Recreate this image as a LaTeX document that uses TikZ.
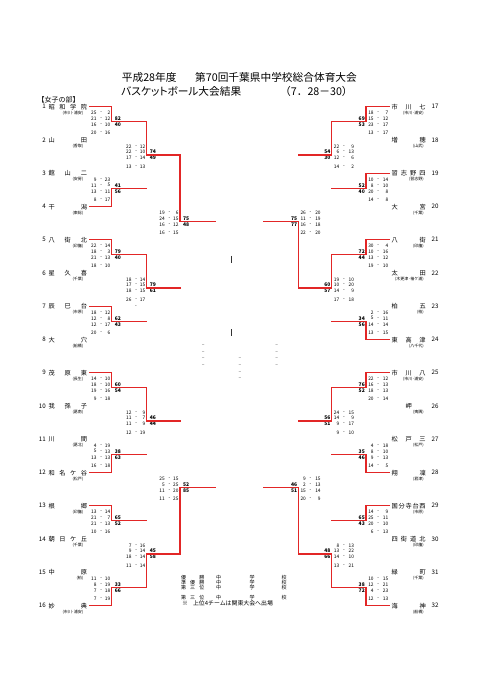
\documentclass[tikz,border=0pt]{standalone}
\usepackage{fontspec}
\setmainfont{Noto Sans CJK JP}
\newfontfamily\paltjp{Noto Sans CJK JP}[RawFeature=+palt]
\pgfdeclarelayer{graylayer}
\pgfdeclarelayer{redlayer}
\pgfsetlayers{graylayer,main,redlayer}
\definecolor{lred}{RGB}{226,38,38}
\definecolor{lgray}{RGB}{130,130,130}
\tikzset{
 lnred/.style={draw=lred,line width=1.25pt,line cap=rect},
 lngray/.style={draw=lgray,line width=0.85pt,line cap=rect},
 tname/.style={inner sep=0pt,font=\fontsize{6.2}{6.5}\selectfont},
 tsub/.style={inner sep=0pt,font=\fontsize{4}{4}\selectfont},
 sc/.style={inner sep=0pt,font=\fontsize{4.8}{5}\selectfont},
 tot/.style={inner sep=0pt,font=\fontsize{5}{5}\selectfont\bfseries},
 ttl/.style={inner sep=0pt,font=\fontsize{10.7}{11}\selectfont},
 lgd/.style={inner sep=0pt,font=\fontsize{5}{5}\selectfont},
 lgdb/.style={inner sep=0pt,font=\fontsize{5.9}{6}\selectfont},
 dsh/.style={inner sep=0pt,text=black!75,font=\fontsize{5}{5}\selectfont},
 smallmark/.style={draw=black!80,line width=0.7pt},
}
\newcommand\seg[3]{\begin{pgfonlayer}{#1layer}\draw[ln#1] (#2) -- (#3);\end{pgfonlayer}}
% id, x0, V, yin, yout, hcolour, vcolour
\newcommand\arm[7]{%
 \coordinate (#1a) at (#2,#4);
 \coordinate (#1b) at (#3,#4);
 \coordinate (#1c) at (#3,#5);
 \seg{#6}{#1a}{#1b}
 \seg{#7}{#1b}{#1c}
}
\newcommand\rowy[2]{\pgfmathsetmacro\yy{#1+(#2==1)*(-8.6)+(#2==2)*(-2.9)+(#2==3)*3.1+(#2==4)*11.5}}
% scores left: id, V, yout, list, tot1, tot2
\newcommand\scL[6]{%
 \foreach \sa/\sb [count=\i] in {#4}{%
  \rowy{#3}{\i}
  \node[sc,anchor=east] (#1a\i) at (#2-15,\yy) {\sa};
  \node[sc] (#1d\i) at (#2-10.5,\yy) {-};
  \node[sc,anchor=east] (#1b\i) at (#2-1.3,\yy) {\sb};
 }
 \node[tot,anchor=west] (#1ta) at (#2+3,#3-2.9) {#5};
 \node[tot,anchor=west] (#1tb) at (#2+3,#3+3.1) {#6};
}
\newcommand\scR[6]{%
 \foreach \sa/\sb [count=\i] in {#4}{%
  \rowy{#3}{\i}
  \node[sc,anchor=east] (#1a\i) at (#2+7.8,\yy) {\sa};
  \node[sc] (#1d\i) at (#2+12.2,\yy) {-};
  \node[sc,anchor=east] (#1b\i) at (#2+22.5,\yy) {\sb};
 }
 \node[tot,anchor=east] (#1ta) at (#2-1,#3-2.9) {#5};
 \node[tot,anchor=east] (#1tb) at (#2-1,#3+3.1) {#6};
}
% teams: y, number, name, sub
\newcommand\teamL[4]{%
 \node[tname,anchor=east] (num#2) at (46,#1) {#2};
 \node[tname,anchor=west] (nm#2) at (48.3,#1) {\makebox[38.5pt][s]{#3}};
 \node[tsub,anchor=east] (sub#2) at (83.5,#1+6.3) {#4};
}
\newcommand\teamR[4]{%
 \node[tname,anchor=west] (num#2) at (431.5,#1) {#2};
 \node[tname,anchor=west] (nm#2) at (391.5,#1) {\makebox[34pt][s]{#3}};
 \node[tsub,anchor=east] (sub#2) at (424,#1+6.3) {#4};
}
\begin{document}
\begin{tikzpicture}[x=1pt,y=-1pt]
\useasboundingbox (0,0) rectangle (481,680);
\fill[white] (0,0) rectangle (481,680);
% title
\node[ttl,anchor=west] (ttla) at (121.7,77) {平成28年度};
\node[ttl,anchor=west] (ttlb) at (195,77) {第70回千葉県中学校総合体育大会};
\node[ttl,anchor=west] (ttlc) at (121,91) {\paltjp バスケットボール大会結果};
\node[ttl,anchor=west] (ttld) at (280,91) {（7．28－30）};
\node[inner sep=0pt,font=\fontsize{7}{7}\selectfont,anchor=west] (bu) at (37.5,100) {【女子の部】};
% left teams
\teamL{106.7}{1}{昭\hfill 和\hfill 学\hfill 院}{(市川･浦安)}
\teamL{140.2}{2}{山\hfill 田}{(香取)}
\teamL{173.2}{3}{館\hfill 山\hfill 二}{(安房)}
\teamL{206.7}{4}{干\hfill 潟}{(東総)}
\teamL{239.7}{5}{八\hfill 街\hfill 北}{(印旛)}
\teamL{273.2}{6}{星\hfill 久\hfill 喜}{(千葉)}
\teamL{306.2}{7}{辰\hfill 巳\hfill 台}{(市原)}
\teamL{339.7}{8}{大\hfill 穴}{(船橋)}
\teamL{372.7}{9}{茂\hfill 原\hfill 東}{(長生)}
\teamL{406.2}{10}{我\hfill 孫\hfill 子}{(葛南)}
\teamL{439.2}{11}{川\hfill 間}{(葛北)}
\teamL{472.7}{12}{和\hfill 名\hfill ケ\hfill 谷}{(松戸)}
\teamL{505.7}{13}{根\hfill 郷}{(印旛)}
\teamL{539.2}{14}{朝\hfill 日\hfill ケ\hfill 丘}{(千葉)}
\teamL{572.2}{15}{中\hfill 原}{(柏)}
\teamL{605.7}{16}{妙\hfill 典}{(市川･浦安)}
% right teams
\teamR{106.7}{17}{市\hfill 川\hfill 七}{(市川･浦安)}
\teamR{140.2}{18}{増\hfill 穂}{(山武)}
\teamR{173.2}{19}{習\hfill 志\hfill 野\hfill 四}{(習志野)}
\teamR{206.7}{20}{大\hfill 宮}{(千葉)}
\teamR{239.7}{21}{八\hfill 街}{(印旛)}
\teamR{273.2}{22}{太\hfill 田}{(木更津･袖ケ浦)}
\teamR{306.2}{23}{柏\hfill 五}{(柏)}
\teamR{339.7}{24}{東\hfill 高\hfill 津}{(八千代)}
\teamR{372.7}{25}{市\hfill 川\hfill 八}{(市川･浦安)}
\teamR{406.2}{26}{\hfill 岬\hfill}{(夷隅)}
\teamR{439.2}{27}{松\hfill 戸\hfill 三}{(松戸)}
\teamR{472.7}{28}{翔\hfill 凜}{(君津)}
\teamR{505.7}{29}{国\hfill 分\hfill 寺\hfill 台\hfill 西}{(市原)}
\teamR{539.2}{30}{四\hfill 街\hfill 道\hfill 北}{(印旛)}
\teamR{572.2}{31}{緑\hfill 町}{(千葉)}
\teamR{605.7}{32}{海\hfill 神}{(船橋)}
% left round 1
\arm{La0}{90}{111.7}{106.7}{121.7}{red}{red}
\arm{Lb0}{90}{111.7}{140.2}{121.7}{gray}{gray}
\arm{La1}{90}{111.7}{173.2}{188.2}{gray}{gray}
\arm{Lb1}{90}{111.7}{206.7}{188.2}{red}{red}
\arm{La2}{90}{111.7}{239.7}{254.7}{red}{red}
\arm{Lb2}{90}{111.7}{273.2}{254.7}{gray}{gray}
\arm{La3}{90}{111.7}{306.2}{321.2}{red}{red}
\arm{Lb3}{90}{111.7}{339.7}{321.2}{gray}{gray}
\arm{La4}{90}{111.7}{372.7}{387.7}{red}{red}
\arm{Lb4}{90}{111.7}{406.2}{387.7}{gray}{gray}
\arm{La5}{90}{111.7}{439.2}{454.2}{gray}{gray}
\arm{Lb5}{90}{111.7}{472.7}{454.2}{red}{red}
\arm{La6}{90}{111.7}{505.7}{520.7}{red}{red}
\arm{Lb6}{90}{111.7}{539.2}{520.7}{gray}{gray}
\arm{La7}{90}{111.7}{572.2}{587.2}{gray}{gray}
\arm{Lb7}{90}{111.7}{605.7}{587.2}{red}{red}
% left round 2
\arm{LRa0}{111.7}{146.7}{121.7}{155}{red}{red}
\arm{LRb0}{111.7}{146.7}{188.2}{155}{red}{gray}
\arm{LRa1}{111.7}{146.7}{254.7}{288}{red}{red}
\arm{LRb1}{111.7}{146.7}{321.2}{288}{red}{gray}
\arm{LRa2}{111.7}{146.7}{387.7}{421}{red}{red}
\arm{LRb2}{111.7}{146.7}{454.2}{421}{red}{gray}
\arm{LRa3}{111.7}{146.7}{520.7}{554}{red}{gray}
\arm{LRb3}{111.7}{146.7}{587.2}{554}{red}{red}
% left quarter-finals
\arm{LQa0}{146.7}{180}{155}{221.5}{red}{red}
\arm{LQb0}{146.7}{180}{288}{221.5}{red}{gray}
\arm{LQa1}{146.7}{180}{421}{487.5}{red}{gray}
\arm{LQb1}{146.7}{180}{554}{487.5}{red}{red}
% left semi-final
\arm{LSa}{180}{215}{221.5}{354.5}{red}{gray}
\arm{LSb}{180}{215}{487.5}{354.5}{red}{gray}
% right round 1
\arm{Ra0}{389}{366}{106.7}{121.7}{red}{red}
\arm{Rb0}{389}{366}{140.2}{121.7}{gray}{gray}
\arm{Ra1}{389}{366}{173.2}{188.2}{red}{red}
\arm{Rb1}{389}{366}{206.7}{188.2}{gray}{gray}
\arm{Ra2}{389}{366}{239.7}{254.7}{red}{red}
\arm{Rb2}{389}{366}{273.2}{254.7}{gray}{gray}
\arm{Ra3}{389}{366}{306.2}{321.2}{gray}{gray}
\arm{Rb3}{389}{366}{339.7}{321.2}{red}{red}
\arm{Ra4}{389}{366}{372.7}{387.7}{red}{red}
\arm{Rb4}{389}{366}{406.2}{387.7}{gray}{gray}
\arm{Ra5}{389}{366}{439.2}{454.2}{gray}{gray}
\arm{Rb5}{389}{366}{472.7}{454.2}{red}{red}
\arm{Ra6}{389}{366}{505.7}{520.7}{red}{red}
\arm{Rb6}{389}{366}{539.2}{520.7}{gray}{gray}
\arm{Ra7}{389}{366}{572.2}{587.2}{gray}{gray}
\arm{Rb7}{389}{366}{605.7}{587.2}{red}{red}
% right round 2
\arm{RRa0}{366}{331.7}{121.7}{155}{red}{red}
\arm{RRb0}{366}{331.7}{188.2}{155}{red}{gray}
\arm{RRa1}{366}{331.7}{254.7}{288}{red}{red}
\arm{RRb1}{366}{331.7}{321.2}{288}{red}{gray}
\arm{RRa2}{366}{331.7}{387.7}{421}{red}{red}
\arm{RRb2}{366}{331.7}{454.2}{421}{red}{gray}
\arm{RRa3}{366}{331.7}{520.7}{554}{red}{gray}
\arm{RRb3}{366}{331.7}{587.2}{554}{red}{red}
% right quarter-finals
\arm{RQa0}{331.7}{298.3}{155}{221.5}{red}{gray}
\arm{RQb0}{331.7}{298.3}{288}{221.5}{red}{red}
\arm{RQa1}{331.7}{298.3}{421}{487.5}{red}{gray}
\arm{RQb1}{331.7}{298.3}{554}{487.5}{red}{red}
% right semi-final
\arm{RSa}{298.3}{263.3}{221.5}{354.5}{red}{gray}
\arm{RSb}{298.3}{263.3}{487.5}{354.5}{red}{gray}
% final
\coordinate (FL) at (215,354.5);
\coordinate (FR) at (263.3,354.5);
\coordinate (FC) at (240,354.5);
\coordinate (FT) at (240,341.7);
\seg{gray}{FL}{FR}
\seg{gray}{FC}{FT}
% small marks
\coordinate (mka) at (231,255.8);
\coordinate (mkb) at (231,262.5);
\coordinate (mkc) at (231,329.2);
\coordinate (mkd) at (231,335.9);
\draw[smallmark] (mka) -- (mkb);
\draw[smallmark] (mkc) -- (mkd);
% placeholders
\foreach \yv [count=\i] in {345.7,352.3,359,365.7}{
 \node[dsh] (pl\i) at (203.3,\yv) {–};
 \node[dsh] (pr\i) at (276.7,\yv) {–};
}
\foreach \yv [count=\i] in {359,365.7,372.3,379}{
 \node[dsh] (pc\i) at (240,\yv) {–};
}
% left scores
\scL{S1}{111.7}{121.7}{25/2,21/12,16/10,20/16}{82}{40}
\scL{S2}{111.7}{188.2}{9/23,11/5,13/11,8/17}{41}{56}
\scL{S3}{111.7}{254.7}{22/14,18/3,21/13,18/10}{79}{40}
\scL{S4}{111.7}{321.2}{18/12,12/8,12/17,20/6}{62}{43}
\scL{S5}{111.7}{387.7}{14/10,18/10,19/16,9/18}{60}{54}
\scL{S6}{111.7}{454.2}{4/19,5/13,13/13,16/18}{38}{63}
\scL{S7}{111.7}{520.7}{13/14,21/7,21/13,10/16}{65}{52}
\scL{S8}{111.7}{587.2}{11/10,8/19,7/18,7/19}{33}{66}
\scL{S9}{146.7}{155}{22/12,22/10,17/14,13/13}{74}{49}
\scL{S10}{146.7}{288}{18/14,17/15,18/15,26/17}{79}{61}
\node[sc] (S10x) at (136,306.3) {-};
\scL{S11}{146.7}{421}{12/9,11/7,11/9,12/19}{46}{44}
\scL{S12}{146.7}{554}{7/16,9/14,18/14,11/14}{45}{58}
\scL{S13}{180}{221.5}{19/6,24/15,16/12,16/15}{75}{48}
\scL{S14}{180}{487.5}{25/15,5/25,11/20,11/25}{52}{85}
% right scores
\scR{R1}{366}{121.7}{18/7,15/12,23/17,13/17}{69}{53}
\scR{R2}{366}{188.2}{10/14,8/10,20/8,14/8}{52}{40}
\scR{R3}{366}{254.7}{30/4,10/16,13/12,19/10}{72}{44}
\scR{R4}{366}{321.2}{2/16,5/11,14/14,13/15}{34}{56}
\scR{R5}{366}{387.7}{22/12,16/13,18/13,20/14}{76}{52}
\scR{R6}{366}{454.2}{4/18,8/10,9/13,14/5}{35}{46}
\scR{R7}{366}{520.7}{14/9,25/11,20/10,6/13}{65}{43}
\scR{R8}{366}{587.2}{10/15,12/21,4/23,12/13}{38}{72}
\scR{R9}{331.7}{155}{22/9,6/13,12/6,14/2}{54}{30}
\scR{R10}{331.7}{288}{19/10,10/20,14/9,17/18}{60}{57}
\scR{R11}{331.7}{421}{24/15,14/9,9/17,9/10}{56}{51}
\scR{R12}{331.7}{554}{8/13,13/22,14/10,13/21}{48}{66}
\scR{R13}{298.3}{221.5}{26/20,11/19,16/18,22/20}{75}{77}
\scR{R14}{298.3}{487.5}{9/15,2/13,15/14,20/9}{46}{51}
% legend
\node[lgd,anchor=west] (lg1) at (180.8,577.3) {\makebox[23.4pt][s]{優\hfill 勝}\hspace{11.7pt}中\hspace{28.6pt}学\hspace{26.8pt}校};
\node[lgd,anchor=west] (lg2) at (180.8,582.6) {\makebox[23.4pt][s]{準\hfill 優\hfill 勝}\hspace{11.7pt}中\hspace{28.6pt}学\hspace{26.8pt}校};
\node[lgd,anchor=west] (lg3) at (180.8,587.9) {\makebox[23.4pt][s]{第\hfill 三\hfill 位}\hspace{11.7pt}中\hspace{28.6pt}学\hspace{26.8pt}校};
\node[lgd,anchor=west] (lg4) at (180.8,597.3) {\makebox[23.4pt][s]{第\hfill 三\hfill 位}\hspace{11.7pt}中\hspace{28.6pt}学\hspace{26.8pt}校};
\node[lgdb,anchor=west] (lg5) at (182,603.5) {※\hspace{5pt}上位4チームは関東大会へ出場};
\end{tikzpicture}
\end{document}
